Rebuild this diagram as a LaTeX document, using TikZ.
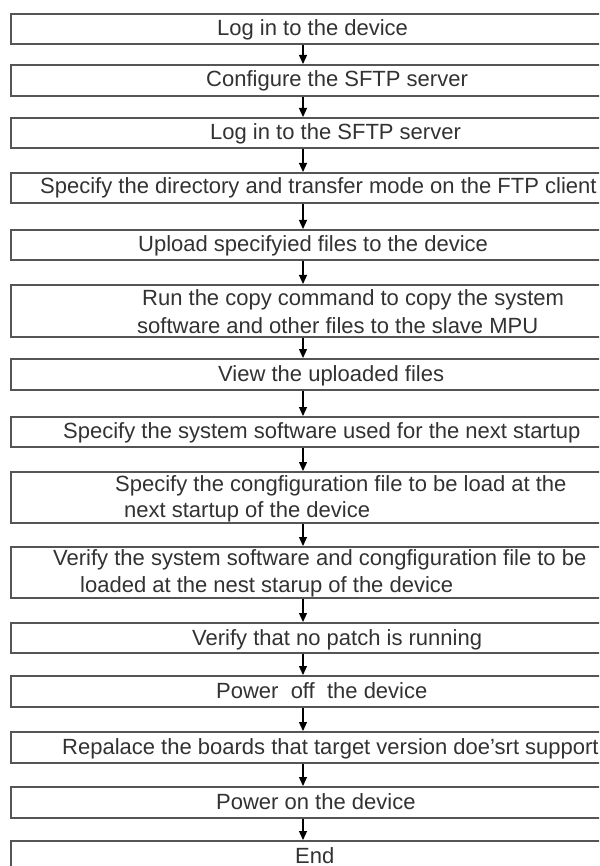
\documentclass[tikz,border=0pt]{standalone}
\usepackage{fontspec}
\setmainfont{Liberation Sans}
\usetikzlibrary{arrows.meta}
\definecolor{boxline}{RGB}{85,85,85}
\definecolor{txtcol}{RGB}{50,50,50}
\tikzset{
  stepbox/.style={draw=boxline, line width=1.6pt, fill=white, anchor=north west, inner sep=0pt, minimum width=620pt},
  txt/.style={anchor=base west, inner sep=0pt, text=txtcol, font=\fontsize{22pt}{26pt}\selectfont},
  flow/.style={draw=black, line width=1.2pt, -{Triangle[width=8pt,length=9pt]}}
}
\begin{document}
\begin{tikzpicture}[x=1pt,y=-1pt]
\useasboundingbox (0,0) rectangle (599,866);
\clip (0,0) rectangle (599,866);
\fill[white] (0,0) rectangle (599,866);
% boxes
\node[stepbox, minimum height=30pt] (b1) at (10,13) {};
\node[stepbox, minimum height=31pt] (b2) at (10,64) {};
\node[stepbox, minimum height=30pt] (b3) at (10,117) {};
\node[stepbox, minimum height=30pt] (b4) at (10,172) {};
\node[stepbox, minimum height=30pt] (b5) at (10,229) {};
\node[stepbox, minimum height=52pt] (b6) at (10,284) {};
\node[stepbox, minimum height=31pt] (b7) at (10,358) {};
\node[stepbox, minimum height=30pt] (b8) at (10,416) {};
\node[stepbox, minimum height=51pt] (b9) at (10,471) {};
\node[stepbox, minimum height=51pt] (b10) at (10,546) {};
\node[stepbox, minimum height=30pt] (b11) at (10,622) {};
\node[stepbox, minimum height=31pt] (b12) at (10,675) {};
\node[stepbox, minimum height=31pt] (b13) at (10,731) {};
\node[stepbox, minimum height=31pt] (b14) at (10,786) {};
\node[stepbox, minimum height=34pt] (b15) at (10,840) {};
% arrows
\coordinate (ax) at (303,0);
\foreach \a/\b in {b1/b2,b2/b3,b3/b4,b4/b5,b5/b6,b6/b7,b7/b8,b8/b9,b9/b10,b10/b11,b11/b12,b12/b13,b13/b14,b14/b15}{
  \draw[flow] (ax |- \a.south) -- (ax |- \b.north);
}
% texts
\node[txt] (t1) at (217,36) {Log in to the device};
\node[txt] (t2) at (206,87) {Configure the SFTP server};
\node[txt] (t3) at (210,140) {Log in to the SFTP server};
\node[txt] (t4) at (40,194) {Specify the directory and transfer mode on the FTP client};
\node[txt] (t5) at (138,252) {Upload specifyied files to the device};
\node[txt] (t6a) at (142,305) {Run the copy command to copy the system};
\node[txt] (t6b) at (137,333) {software and other files to the slave MPU};
\node[txt] (t7) at (218,381) {View the uploaded files};
\node[txt] (t8) at (63,438) {Specify the system software used for the next startup};
\node[txt] (t9a) at (115,491) {Specify the congfiguration file to be load at the};
\node[txt] (t9b) at (124,517) {next startup of the device};
\node[txt] (t10a) at (53,565) {Verify the system software and congfiguration file to be};
\node[txt] (t10b) at (80,592) {loaded at the nest starup of the device};
\node[txt] (t11) at (192,645) {Verify that no patch is running};
\node[txt] (t12) at (216,698) {Power~ off~ the device};
\node[txt] (t13) at (62,754) {Repalace the boards that target version doe'srt support};
\node[txt] (t14) at (216,809) {Power on the device};
\node[txt] (t15) at (295,863) {End};
\end{tikzpicture}
\end{document}
